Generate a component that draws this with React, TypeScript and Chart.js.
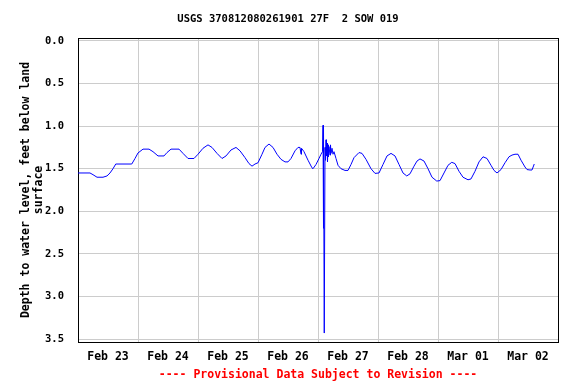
import { useEffect, useRef } from 'react';
import { Chart, registerables } from 'chart.js';

Chart.register(...registerables);

const TITLE = 'USGS 370812080261901 27F  2 SOW 019';
const Y_TITLE = ['Depth to water level, feet below land', 'surface'];
const FOOTER = '---- Provisional Data Subject to Revision ----';
const dayLabels = ['Feb 23', 'Feb 24', 'Feb 25', 'Feb 26', 'Feb 27', 'Feb 28', 'Mar 01', 'Mar 02'];
const yTicks = [0, 0.5, 1.0, 1.5, 2.0, 2.5, 3.0, 3.5];

// hours since Feb 23 00:00
const hours = [
  0, 4.8, 6, 7.6, 10, 11.6, 12.8, 14, 15.1, 21.5, 22.8, 24, 26, 28.4, 30, 32, 34.4, 35.6, 37.2, 40.4,
  42, 44, 46.4, 48, 50, 52, 53.6, 55.6, 57.6, 59.2, 61.2, 63.2, 64.8, 66.8, 68.4, 69.6, 70.8, 72,
  73.6, 74.8, 76.4, 78, 79.6, 81.2, 82.8, 84, 85.2, 86.8, 88, 88.8, 89.2, 89.4, 90.4, 92, 93.6, 94,
  95.2, 96.4, 97.2, 97.8, 98, 98.1, 98.3, 98.5, 98.8, 99, 99.2, 99.4, 99.6, 99.8, 100, 100.2, 100.4,
  100.8, 101, 101.2, 101.6, 102, 102.4, 103.2, 104, 105.2, 106.8, 108, 109.2, 110.4, 112.4, 113.6,
  115.2, 117.2, 118.8, 120.4, 122, 123.6, 125.2, 126.8, 128.4, 130, 131.5, 132.8, 134.4, 135.6,
  136.8, 138.4, 140, 141.6, 143.5, 144.8, 146.4, 148, 149.5, 150.8, 152.4, 154, 156, 157.2, 158.8,
  160.4, 162, 163.6, 165.2, 166.4, 167.6, 169.2, 170.8, 172.4, 173.6, 174.8, 176, 177.2, 178.8,
  179.6, 180.8, 181.6, 182.5,
];

const depths = [
  1.55, 1.55, 1.57, 1.6, 1.6, 1.585, 1.55, 1.5, 1.445, 1.445, 1.38, 1.315, 1.27, 1.27, 1.3, 1.35, 1.35, 1.31, 1.27, 1.27,
  1.32, 1.38, 1.38, 1.33, 1.26, 1.22, 1.25, 1.32, 1.38, 1.35, 1.28, 1.25, 1.29, 1.37, 1.44, 1.47, 1.445, 1.43,
  1.33, 1.25, 1.21, 1.25, 1.33, 1.39, 1.42, 1.42, 1.38, 1.29, 1.25, 1.25, 1.33, 1.26, 1.3, 1.4, 1.49, 1.5,
  1.45, 1.38, 1.33, 1.3, 0.99, 2.2, 1.0, 3.43, 1.25, 1.4, 1.16, 1.35, 1.2, 1.42, 1.22, 1.36, 1.24,
  1.34, 1.22, 1.32, 1.26, 1.33, 1.3, 1.38, 1.46, 1.5, 1.52, 1.52, 1.45, 1.37, 1.31, 1.32,
  1.39, 1.5, 1.555, 1.55, 1.45, 1.35, 1.32, 1.35, 1.45, 1.55, 1.585, 1.56, 1.47, 1.41,
  1.385, 1.41, 1.5, 1.6, 1.645, 1.64, 1.55, 1.46, 1.425, 1.44, 1.53, 1.6, 1.63, 1.62, 1.53,
  1.42, 1.36, 1.38, 1.46, 1.52, 1.55, 1.51, 1.43, 1.36, 1.34, 1.33, 1.33, 1.4, 1.48,
  1.51, 1.515, 1.515, 1.445,
];

const FONT = 'DejaVu Sans Mono';

const framePlugin = {
  id: 'frame',
  beforeDatasetsDraw(chart: any) {
    const { ctx, chartArea } = chart;
    ctx.save();
    ctx.strokeStyle = '#000000';
    ctx.lineWidth = 1;
    ctx.strokeRect(
      Math.round(chartArea.left) + 0.5,
      Math.round(chartArea.top) + 0.5,
      Math.round(chartArea.right - chartArea.left),
      Math.round(chartArea.bottom - chartArea.top)
    );
    ctx.restore();
  },
};

export default function App() {
  const ref = useRef<HTMLCanvasElement | null>(null);

  useEffect(() => {
    if (!ref.current) return;
    const points = hours.map((h, i) => ({ x: h, y: depths[i] }));
    const xTickValues: number[] = [];
    for (let i = 0; i <= dayLabels.length * 2; i++) xTickValues.push(i * 12);

    const chart = new Chart(ref.current, {
      type: 'line',
      data: {
        datasets: [
          {
            data: points,
            borderColor: '#0000ff',
            borderWidth: 1,
            pointRadius: 0,
            tension: 0,
            fill: false,
          },
        ],
      },
      plugins: [framePlugin],
      options: {
        animation: false,
        responsive: false,
        devicePixelRatio: 1,
        layout: { padding: 0 },
        plugins: {
          legend: { display: false },
          tooltip: { enabled: false },
          title: {
            display: true,
            text: TITLE,
            color: '#000000',
            font: { family: FONT, size: 10.5, weight: 'bold', lineHeight: 1.2 },
            padding: { top: 13, bottom: 12.4 },
          },
        },
        scales: {
          x: {
            type: 'linear',
            min: 0,
            max: dayLabels.length * 24,
            afterBuildTicks: (scale: any) => {
              scale.ticks = xTickValues.map((v) => ({ value: v }));
            },
            afterFit: (scale: any) => {
              scale.height = 42;
            },
            ticks: {
              autoSkip: false,
              maxRotation: 0,
              minRotation: 0,
              padding: 8,
              color: '#000000',
              font: { family: FONT, size: 11.5, weight: 'bold' },
              callback: (v: any) => {
                const n = Number(v);
                return n % 24 === 12 ? dayLabels[(n - 12) / 24] : '';
              },
            },
            grid: {
              drawTicks: false,
              color: (ctx: any) =>
                ctx.tick && ctx.tick.value % 24 === 0 ? '#cccccc' : 'rgba(0,0,0,0)',
              lineWidth: 1,
            },
            border: { display: true, color: '#000000' },
            title: {
              display: true,
              text: FOOTER,
              color: '#ff0000',
              font: { family: FONT, size: 11.5, weight: 'bold', lineHeight: 1.2 },
              padding: { top: 0, bottom: 2 },
            },
          },
          y: {
            type: 'linear',
            reverse: true,
            min: -0.035,
            max: 3.535,
            afterBuildTicks: (scale: any) => {
              scale.ticks = yTicks.map((v) => ({ value: v }));
            },
            afterFit: (scale: any) => {
              scale.width = 78;
            },
            ticks: {
              padding: 14,
              color: '#000000',
              font: { family: FONT, size: 10.5, weight: 'bold' },
              callback: (v: any) => Number(v).toFixed(1),
            },
            grid: { drawTicks: false, color: '#cccccc', lineWidth: 1 },
            border: { display: true, color: '#000000' },
            title: {
              display: true,
              text: Y_TITLE,
              color: '#000000',
              font: { family: FONT, size: 11.5, weight: 'bold', lineHeight: 13 / 11.5 },
              padding: { top: 19.5, bottom: 0 },
            },
          },
          yRight: {
            type: 'linear',
            position: 'right',
            display: true,
            min: 0,
            max: 1,
            afterFit: (scale: any) => {
              scale.width = 18;
            },
            ticks: { display: false },
            grid: { display: false, drawTicks: false },
            border: { display: false },
          },
        },
      },
    } as any);

    return () => chart.destroy();
  }, []);

  return (
    <div style={{ position: 'absolute', left: 0, top: 0, width: 576, height: 384 }}>
      <canvas ref={ref} width={576} height={384} />
    </div>
  );
}
